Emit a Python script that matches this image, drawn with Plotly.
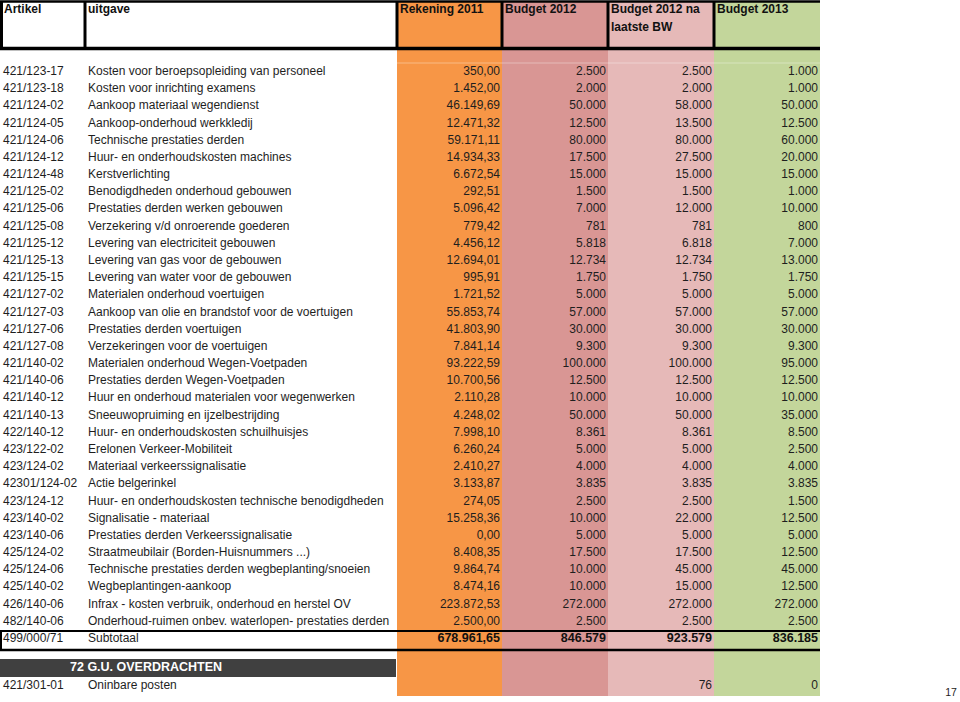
import plotly.graph_objects as go

# ---------------- data ----------------
artikel = ["421/123-17", "421/123-18", "421/124-02", "421/124-05", "421/124-06", "421/124-12",
           "421/124-48", "421/125-02", "421/125-06", "421/125-08", "421/125-12", "421/125-13",
           "421/125-15", "421/127-02", "421/127-03", "421/127-06", "421/127-08", "421/140-02",
           "421/140-06", "421/140-12", "421/140-13", "422/140-12", "423/122-02", "423/124-02",
           "42301/124-02", "423/124-12", "423/140-02", "423/140-06", "425/124-02", "425/124-06",
           "425/140-02", "426/140-06", "482/140-06"]
uitgave = ["Kosten voor beroepsopleiding van personeel", "Kosten voor inrichting examens",
           "Aankoop materiaal wegendienst", "Aankoop-onderhoud werkkledij",
           "Technische prestaties derden", "Huur- en onderhoudskosten machines", "Kerstverlichting",
           "Benodigdheden onderhoud gebouwen", "Prestaties derden werken gebouwen",
           "Verzekering v/d onroerende goederen", "Levering van electriciteit gebouwen",
           "Levering van gas voor de gebouwen", "Levering van water voor de gebouwen",
           "Materialen onderhoud voertuigen", "Aankoop van olie en brandstof voor de voertuigen",
           "Prestaties derden voertuigen", "Verzekeringen voor de voertuigen",
           "Materialen onderhoud Wegen-Voetpaden", "Prestaties derden Wegen-Voetpaden",
           "Huur en onderhoud materialen voor wegenwerken", "Sneeuwopruiming en ijzelbestrijding",
           "Huur- en onderhoudskosten schuilhuisjes", "Erelonen Verkeer-Mobiliteit",
           "Materiaal verkeerssignalisatie", "Actie belgerinkel",
           "Huur- en onderhoudskosten technische benodigdheden", "Signalisatie - materiaal",
           "Prestaties derden Verkeerssignalisatie", "Straatmeubilair (Borden-Huisnummers ...)",
           "Technische prestaties derden wegbeplanting/snoeien", "Wegbeplantingen-aankoop",
           "Infrax - kosten verbruik, onderhoud en herstel OV",
           "Onderhoud-ruimen onbev. waterlopen- prestaties derden"]
rekening_2011 = ["350,00", "1.452,00", "46.149,69", "12.471,32", "59.171,11", "14.934,33", "6.672,54",
                 "292,51", "5.096,42", "779,42", "4.456,12", "12.694,01", "995,91", "1.721,52",
                 "55.853,74", "41.803,90", "7.841,14", "93.222,59", "10.700,56", "2.110,28",
                 "4.248,02", "7.998,10", "6.260,24", "2.410,27", "3.133,87", "274,05", "15.258,36",
                 "0,00", "8.408,35", "9.864,74", "8.474,16", "223.872,53", "2.500,00"]
budget_2012 = ["2.500", "2.000", "50.000", "12.500", "80.000", "17.500", "15.000", "1.500", "7.000",
               "781", "5.818", "12.734", "1.750", "5.000", "57.000", "30.000", "9.300", "100.000",
               "12.500", "10.000", "50.000", "8.361", "5.000", "4.000", "3.835", "2.500", "10.000",
               "5.000", "17.500", "10.000", "10.000", "272.000", "2.500"]
budget_2012_bw = ["2.500", "2.000", "58.000", "13.500", "80.000", "27.500", "15.000", "1.500", "12.000",
                  "781", "6.818", "12.734", "1.750", "5.000", "57.000", "30.000", "9.300", "100.000",
                  "12.500", "10.000", "50.000", "8.361", "5.000", "4.000", "3.835", "2.500", "22.000",
                  "5.000", "17.500", "45.000", "15.000", "272.000", "2.500"]
budget_2013 = ["1.000", "1.000", "50.000", "12.500", "60.000", "20.000", "15.000", "1.000", "10.000",
               "800", "7.000", "13.000", "1.750", "5.000", "57.000", "30.000", "9.300", "95.000",
               "12.500", "10.000", "35.000", "8.500", "2.500", "4.000", "3.835", "1.500", "12.500",
               "5.000", "12.500", "45.000", "12.500", "272.000", "2.500"]

header_line1 = ["Artikel", "uitgave", "Rekening 2011", "Budget 2012", "Budget 2012 na", "Budget 2013"]
header_line2 = ["", "", "", "", "laatste BW", ""]
subtotal_row = ["499/000/71", "Subtotaal", "678.961,65", "846.579", "923.579", "836.185"]
section_title = "72 G.U. OVERDRACHTEN"
extra_row = ["421/301-01", "Oninbare posten", "", "", "76", "0"]
page_number = "17"

# ---------------- layout helpers ----------------
W, H = 960, 702
edges = [1, 85, 397, 502, 608, 714, 820]
col_colors = ["#F79646", "#D99694", "#E6B9B8", "#C3D69B"]
ROW0, ROW_H = 72, 17.18
FONT = "Liberation Sans, Arial, Helvetica, sans-serif"
TXT = "#1e1e1e"


def row_y(i):
    return ROW0 + ROW_H * i


n = len(artikel)
ys = [row_y(i) for i in range(n)]
y_sub = row_y(n)
y_band = 668
y_extra = 686

shapes = []
# coloured value columns
for k, c in enumerate(col_colors):
    shapes.append(dict(type="rect", x0=edges[k + 2], x1=edges[k + 3], y0=1, y1=696,
                       fillcolor=c, line_width=0, layer="below"))
# faint light line under header
shapes.append(dict(type="line", x0=edges[2], x1=edges[6], y0=63, y1=63,
                   line=dict(color="rgba(255,255,255,0.35)", width=1), layer="below"))
# header box
shapes.append(dict(type="line", x0=0, x1=edges[6], y0=1.5, y1=1.5, line=dict(color="black", width=2.5)))
shapes.append(dict(type="line", x0=0, x1=edges[6], y0=48.5, y1=48.5, line=dict(color="black", width=3.5)))
for xe in edges[:6]:
    xx = xe + (0.5 if xe == 1 else 0)
    shapes.append(dict(type="line", x0=xx, x1=xx, y0=1, y1=48, line=dict(color="black", width=3)))
# subtotal box
shapes.append(dict(type="line", x0=0, x1=edges[6], y0=631, y1=631, line=dict(color="black", width=2)))
shapes.append(dict(type="line", x0=0, x1=edges[6], y0=650, y1=650, line=dict(color="black", width=2.5)))
shapes.append(dict(type="line", x0=1, x1=1, y0=631, y1=650, line=dict(color="black", width=2)))
# dark section band (below text)
shapes.append(dict(type="rect", x0=0, x1=edges[2] - 1, y0=659, y1=677,
                   fillcolor="#404040", line_width=0, layer="below"))

fig = go.Figure()


def add_text(xv, yv, texts, pos, size=12, color=TXT, bold=False):
    t = [("<b>%s</b>" % s if (bold and s) else s) for s in texts]
    fig.add_trace(go.Scatter(x=xv, y=yv, mode="text", text=t, textposition=pos,
                             textfont=dict(family=FONT, size=size, color=color),
                             hoverinfo="skip", showlegend=False))


# headers
hx = [4, 88] + [e + 3 for e in edges[2:6]]
add_text(hx, [10] * 6, header_line1, "middle right", 12, "#111", bold=True)
add_text(hx, [27.5] * 6, header_line2, "middle right", 12, "#111", bold=True)

# body rows
add_text([3] * n, ys, artikel, "middle right")
add_text([88] * n, ys, uitgave, "middle right")
for k, col in enumerate([rekening_2011, budget_2012, budget_2012_bw, budget_2013]):
    add_text([edges[k + 3] - 2] * n, ys, col, "middle left")

# subtotal
add_text([3, 88], [y_sub] * 2, subtotal_row[:2], "middle right")
add_text([e - 2 for e in edges[3:7]], [y_sub] * 4, subtotal_row[2:], "middle left", 12.5, "#111", bold=True)

# section band + extra row
add_text([70], [y_band], [section_title], "middle right", 12.5, "white", bold=True)
add_text([3, 88], [y_extra] * 2, extra_row[:2], "middle right")
add_text([e - 2 for e in edges[3:7]], [y_extra] * 4, extra_row[2:], "middle left")

# page number
add_text([951], [693], [page_number], "middle center", 10.5, "#222")

fig.update_layout(
    width=W, height=H, margin=dict(l=0, r=0, t=0, b=0),
    paper_bgcolor="white", plot_bgcolor="white",
    xaxis=dict(range=[0, W], visible=False, fixedrange=True),
    yaxis=dict(range=[H, 0], visible=False, fixedrange=True),
    shapes=shapes,
)

fig.write_html("out.html", config={"displayModeBar": False},
               post_script="document.body.style.margin='0';document.body.style.overflow='hidden';")
